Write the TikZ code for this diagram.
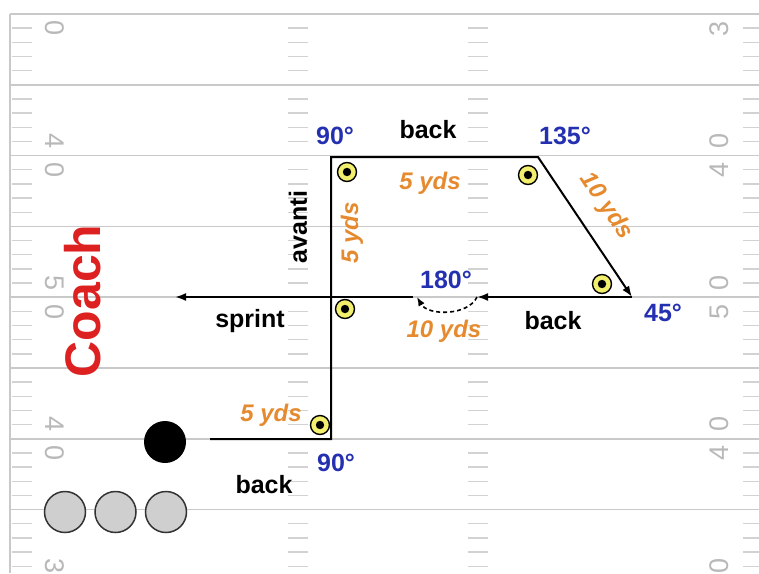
\documentclass[tikz,border=0pt]{standalone}
\usepackage{fontspec}
\setmainfont{Liberation Sans}
\usepackage{tikz}
\usetikzlibrary{positioning, arrows.meta}
\definecolor{fieldline}{HTML}{C9C9C9}
\definecolor{hashgrey}{HTML}{D2D2D2}
\definecolor{numgrey}{HTML}{B8B8B8}
\definecolor{coneyellow}{HTML}{F2EE6E}
\definecolor{playergrey}{HTML}{CFCFCF}
\definecolor{degblue}{HTML}{2430B0}
\definecolor{distorange}{HTML}{E58A2E}
\definecolor{coachred}{HTML}{DD2020}
\tikzset{
  yardline/.style = {draw=fieldline, line width=1.5pt},
  hashmark/.style = {draw=hashgrey, line width=1.4pt},
  yardnum/.style  = {font=\fontsize{27}{27}\selectfont, text=numgrey, inner sep=0pt},
  cone/.style     = {circle, draw=black, line width=1.4pt, fill=coneyellow,
                     minimum size=19pt, inner sep=0pt,
                     path picture={\fill[black] (path picture bounding box.center) circle (4.2pt);}},
  player/.style   = {circle, draw=black!80, line width=1.5pt, fill=playergrey,
                     minimum size=41pt, inner sep=0pt},
  ball/.style     = {circle, fill=black, minimum size=42pt, inner sep=0pt},
  deglabel/.style = {font=\bfseries\fontsize{25}{25}\selectfont, text=degblue, inner sep=1pt},
  cue/.style      = {font=\bfseries\fontsize{25}{25}\selectfont, text=black, inner sep=1pt},
  dist/.style     = {font=\bfseries\itshape\fontsize{24}{24}\selectfont, text=distorange, inner sep=1pt},
  route/.style    = {draw=black, line width=2pt, line join=miter},
  ar/.style       = {route, -{Latex[length=11pt,width=8pt]}},
  dar/.style      = {draw=black, line width=1.6pt, dash pattern=on 4pt off 3pt,
                     -{Latex[length=9pt,width=7pt]}},
}

\begin{document}
\begin{tikzpicture}[x=1pt, y=-1pt]
  \useasboundingbox (0,0) rectangle (759,573);

  % field
  \draw[yardline] (10,14) -- (10,573);
  \foreach \k in {0,...,7} {
    \draw[yardline] (10,14+70.8*\k) -- (759,14+70.8*\k);
    \foreach \j in {1,...,4} {
      \foreach \hx in {12,288,468,743}
        {\draw[hashmark] (\hx,14+70.8*\k+14.16*\j) -- ++(20,0);}
    }
  }
  % yard numbers (left read downwards, right read upwards)
  \node[yardnum, rotate=-90] (nl0) at (55,28.5) {0};
  \node[yardnum, rotate=90] (nr0) at (719,28.5) {3};
  \foreach \ya/\da/\db in {155.6/4/0, 297.2/5/0, 438.8/4/0} {
    \node[yardnum, rotate=-90] at (55,\ya-14.5) {\da};
    \node[yardnum, rotate=-90] at (55,\ya+14.5) {\db};
    \node[yardnum, rotate=90] at (719,\ya+14.5) {\da};
    \node[yardnum, rotate=90] at (719,\ya-14.5) {\db};
  }
  \node[yardnum, rotate=-90] (nl6) at (55,566) {3};
  \node[yardnum, rotate=90] (nr6) at (719,566) {0};

  \node[font=\bfseries\fontsize{50}{50}\selectfont, text=coachred, rotate=90] (coach) at (83,301) {Coach};

  % players
  \node[ball] (qb) at (165,442) {};
  \node[player] (p1) at (65,512) {};
  \node[player, right=8pt of p1] (p2) {};
  \node[player, right=8pt of p2] (p3) {};

  % route
  \coordinate (start) at (210,439);
  \coordinate (cA) at (331,439);
  \coordinate (cB) at (331,157);
  \coordinate (cC) at (538,157);
  \coordinate (cD) at (632,297);
  \coordinate (cE) at (477,297);
  \coordinate (cF) at (417,297);
  \coordinate (cS) at (413,297);
  \coordinate (cG) at (175,297);

  \draw[ar] (start) -- (cA) -- (cB) -- (cC) -- (cD);
  \draw[ar] (cD) -- (cE);
  \draw[dar] (cE) .. controls (468,316) and (428,316) .. (cF);
  \draw[ar] (cS) -- (cG);

  % cones
  \node[cone] (k1) at (347,172) {};
  \node[cone] (k2) at (528,175) {};
  \node[cone] (k3) at (602,284) {};
  \node[cone] (k4) at (345,309) {};
  \node[cone] (k5) at (320,425) {};

  % labels
  \node[deglabel] at (335,136) {90°};
  \node[deglabel] at (565,136) {135°};
  \node[deglabel] at (446,280) {180°};
  \node[deglabel] at (663,313) {45°};
  \node[deglabel] at (336,463) {90°};

  \node[cue] at (428,130) {back};
  \node[cue, rotate=90] at (298,227) {avanti};
  \node[cue] at (250,321) {sprint};
  \node[cue] at (553,321) {back};
  \node[cue] at (264,485) {back};

  \node[dist] at (430,183) {5 yds};
  \node[dist, rotate=-56] at (606,206) {10 yds};
  \node[dist, rotate=90] at (352,233) {5 yds};
  \node[dist] at (444,331) {10 yds};
  \node[dist] at (271,415) {5 yds};

\end{tikzpicture}
\end{document}
